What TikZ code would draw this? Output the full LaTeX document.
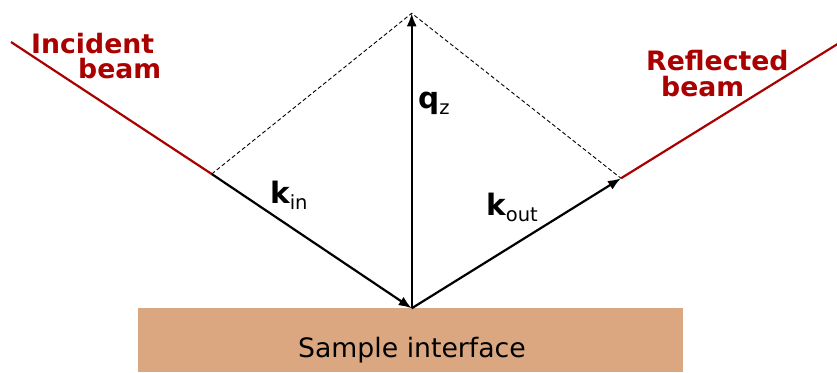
\documentclass[tikz,border=0pt]{standalone}
\usepackage{fontspec}
\setmainfont{DejaVu Sans}
\usetikzlibrary{arrows.meta}
\definecolor{beamred}{RGB}{170,0,0}
\definecolor{sampletan}{RGB}{218,167,128}
\tikzset{
  vec/.style={line width=2.2pt, -{Latex[length=13pt,width=10pt]}},
  beamline/.style={line width=2.2pt, draw=beamred},
  guide/.style={line width=0.9pt, dash pattern=on 4pt off 2.5pt},
  beamlabel/.style={text=beamred, font=\fontsize{26.7}{30}\selectfont\bfseries, inner sep=0pt, anchor=base west},
  veclabel/.style={inner sep=0pt, anchor=base west},
}
\newcommand{\veclab}[2]{\fontsize{29.5}{30}\selectfont\bfseries #1\raisebox{-6pt}{\fontsize{19.5}{20}\selectfont\mdseries #2}}
\begin{document}
\begin{tikzpicture}[x=1pt,y=-1pt]
\useasboundingbox (0,0) rectangle (837,372);
% sample
\node[fill=sampletan, minimum width=545pt, minimum height=64pt, inner sep=0pt, anchor=north west] (sample) at (138,308) {};
\node[inner sep=0pt, anchor=base, font=\fontsize{26.7}{30}\selectfont] (samplelab) at (412,357) {Sample interface};
% coordinates
\coordinate (src) at (11,42);
\coordinate (L) at (211.7,174);
\coordinate (O) at (411.7,308.3);
\coordinate (T) at (411.7,13.3);
\coordinate (R) at (621,178.3);
\coordinate (dst) at (840,42.5);
% beams
\draw[beamline] (src) -- (L);
\draw[beamline] (R) -- (dst);
% guides
\draw[guide] (L) -- (T) -- (R);
% vectors
\draw[vec] (L) -- (O);
\draw[vec] (O) -- (T);
\draw[vec] (O) -- (R);
% labels
\node[veclabel] (kin) at (270,203) {\veclab{k}{in}};
\node[veclabel] (qz) at (418,108.3) {\veclab{q}{z}};
\node[veclabel] (kout) at (486,215) {\veclab{k}{out}};
\node[beamlabel] (inc1) at (31,53) {Incident};
\node[beamlabel] (inc2) at (78,78.3) {beam};
\node[beamlabel] (ref1) at (646,70) {Reflected};
\node[beamlabel] (ref2) at (661,96.7) {beam};
\end{tikzpicture}
\end{document}
